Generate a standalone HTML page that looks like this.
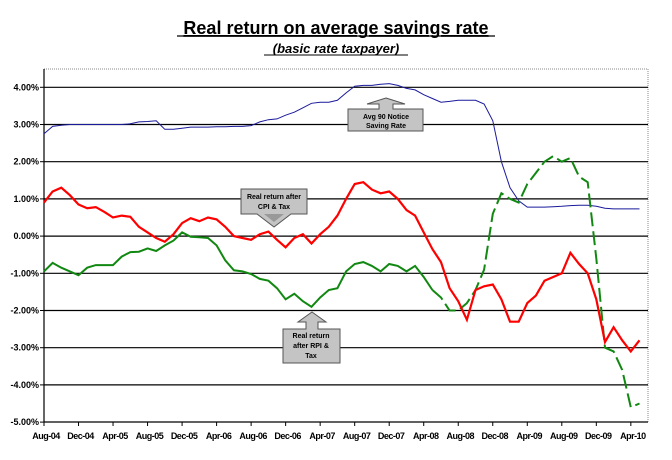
<!DOCTYPE html>
<html><head><meta charset="utf-8">
<style>
body{margin:0;background:#fff;width:672px;height:455px;overflow:hidden;font-family:"Liberation Sans",Arial,sans-serif}
text{font-family:"Liberation Sans",Arial,sans-serif}
</style></head>
<body>
<svg id="chart" width="672" height="455" viewBox="0 0 672 455">
<text x="336" y="34" text-anchor="middle" font-size="18" font-weight="bold" text-decoration="underline">Real return on average savings rate</text>
<line x1="177" y1="36" x2="495" y2="36" stroke="#000" stroke-width="1.2"/>
<text x="336" y="53" text-anchor="middle" font-size="13" font-weight="bold" font-style="italic">(basic rate taxpayer)</text>
<line x1="264" y1="55" x2="408" y2="55" stroke="#000" stroke-width="1"/>
<g id="grid"></g>
<g id="series"></g>
<g id="callouts"></g>
</svg>
<script>
const months=["Aug-04","Dec-04","Apr-05","Aug-05","Dec-05","Apr-06","Aug-06","Dec-06","Apr-07","Aug-07","Dec-07","Apr-08","Aug-08","Dec-08","Apr-09","Aug-09","Dec-09","Apr-10"];
const yTicks=[4,3,2,1,0,-1,-2,-3,-4,-5];
const savingsRate=[2.75,2.95,2.98,3.0,3.0,3.0,3.0,3.0,3.0,3.0,3.02,3.07,3.08,3.1,2.87,2.87,2.9,2.93,2.93,2.93,2.94,2.94,2.95,2.95,2.97,3.07,3.13,3.15,3.25,3.33,3.45,3.57,3.6,3.6,3.65,3.85,4.03,4.05,4.05,4.08,4.1,4.05,3.97,3.93,3.8,3.7,3.6,3.62,3.65,3.65,3.65,3.55,3.1,2.0,1.3,0.95,0.78,0.78,0.78,0.79,0.8,0.82,0.83,0.83,0.8,0.75,0.73,0.73,0.73,0.73];
const realCPI=[0.9,1.2,1.3,1.1,0.85,0.75,0.78,0.65,0.5,0.55,0.52,0.25,0.1,-0.05,-0.15,0.05,0.35,0.48,0.4,0.5,0.45,0.25,0.0,-0.05,-0.1,0.05,0.12,-0.1,-0.3,-0.05,0.05,-0.2,0.05,0.25,0.55,1.0,1.4,1.45,1.25,1.15,1.2,1.0,0.7,0.55,0.1,-0.35,-0.7,-1.4,-1.75,-2.25,-1.45,-1.35,-1.3,-1.7,-2.3,-2.3,-1.8,-1.6,-1.2,-1.1,-1.0,-0.45,-0.75,-1.0,-1.7,-2.85,-2.45,-2.8,-3.1,-2.8];
const realRPI=[-0.95,-0.72,-0.85,-0.95,-1.05,-0.85,-0.78,-0.78,-0.78,-0.55,-0.43,-0.42,-0.33,-0.4,-0.25,-0.12,0.1,-0.02,-0.03,-0.05,-0.25,-0.65,-0.92,-0.95,-1.02,-1.15,-1.2,-1.4,-1.7,-1.55,-1.75,-1.9,-1.65,-1.45,-1.4,-0.95,-0.75,-0.7,-0.8,-0.95,-0.75,-0.8,-0.95,-0.8,-1.1,-1.45,-1.65,-2.0,-2.0,-1.8,-1.45,-0.9,0.6,1.15,1.0,0.9,1.4,1.7,2.0,2.15,2.0,2.1,1.6,1.45,-0.6,-3.0,-3.1,-3.6,-4.6,-4.5];
const X0=44,X1=648,YT=69,YB=422;
const xs=m=>X0+m*8.63;
const ys=v=>87.3+(4-v)*37.2;
const NS="http://www.w3.org/2000/svg";
function mk(tag,attrs,parent){const e=document.createElementNS(NS,tag);for(const k in attrs)e.setAttribute(k,attrs[k]);parent.appendChild(e);return e;}
const g=document.getElementById('grid');
let bg=mk('rect',{x:X0,y:YT,width:X1-X0,height:YB-YT,fill:'#fff',stroke:'#888','stroke-dasharray':'1,1'},g);


yTicks.forEach(v=>{
  const y=ys(v);
  if(v>-5){const l=mk('line',{x1:X0,x2:X1,y1:y,y2:y,stroke:'#000','stroke-width':1.2},g);
  
  }
  mk('line',{x1:X0-4,x2:X0,y1:y,y2:y,stroke:'#000'},g);
  const t=mk('text',{x:X0-5,y:y+3,'text-anchor':'end','font-size':'9','font-weight':'bold'},g);
  t.textContent=v.toFixed(2)+'%';
  
  
});
mk('line',{x1:X0,x2:X0,y1:YT,y2:YB,stroke:'#000','stroke-width':1.2},g);
mk('line',{x1:X0,x2:X1,y1:YB,y2:YB,stroke:'#000','stroke-width':1.2},g);
months.forEach((lab,i)=>{
  const x=xs(i*4);
  mk('line',{x1:x,x2:x,y1:YB,y2:YB+4,stroke:'#000'},g);
  const t=mk('text',{x:x+2,y:YB+17,'text-anchor':'middle','font-size':'9','font-weight':'bold','letter-spacing':'-0.5'},g);
  t.textContent=lab;
  
  
});
const s=document.getElementById('series');
function pts(arr,a,b){let p=[];for(let i=a;i<=b&&i<arr.length;i++)p.push(xs(i).toFixed(1)+','+ys(arr[i]).toFixed(1));return p.join(' ');}
let pl=mk('polyline',{points:pts(savingsRate,0,savingsRate.length-1),fill:'none',stroke:'#1a1a9c','stroke-width':1},s);


pl=mk('polyline',{points:pts(realRPI,0,45),fill:'none',stroke:'#118811','stroke-width':2},s);


pl=mk('polyline',{points:pts(realRPI,45,realRPI.length-1),fill:'none',stroke:'#118811','stroke-width':2,'stroke-dasharray':'14,5'},s);


pl=mk('polyline',{points:pts(realCPI,0,realCPI.length-1),fill:'none',stroke:'#ff0000','stroke-width':2.2},s);


</script>
<svg style="position:absolute;left:0;top:0" width="672" height="455">
<g fill="#c4c4c4" stroke="#555" stroke-width="1">
<polygon points="241,189 307,189 307,214 291,214 291,214 274,227 257,214 241,214"/>
<polygon points="264,214 284,214 274,222" fill="#999" stroke="none"/>
<text x="274" y="199" text-anchor="middle" font-size="7" font-weight="bold" fill="#000" stroke="none">Real return after</text>
<text x="274" y="209" text-anchor="middle" font-size="7" font-weight="bold" fill="#000" stroke="none">CPI &amp; Tax</text>
</g>
<g fill="#c4c4c4" stroke="#555" stroke-width="1">
<polygon points="312,312 326,322 318,322 318,329 340,329 340,363 283,363 283,329 306,329 306,322 298,322"/>
<text x="311" y="338" text-anchor="middle" font-size="7" font-weight="bold" fill="#000" stroke="none">Real return</text>
<text x="311" y="348" text-anchor="middle" font-size="7" font-weight="bold" fill="#000" stroke="none">after RPI &amp;</text>
<text x="311" y="358" text-anchor="middle" font-size="7" font-weight="bold" fill="#000" stroke="none">Tax</text>
</g>
<g fill="#c4c4c4" stroke="#555" stroke-width="1">
<polygon points="386,98 405,104 393,104 393,109 423,109 423,131 348,131 348,109 379,109 379,104 367,104"/>
<text x="386" y="119" text-anchor="middle" font-size="7" font-weight="bold" fill="#000" stroke="none">Avg 90 Notice</text>
<text x="386" y="128" text-anchor="middle" font-size="7" font-weight="bold" fill="#000" stroke="none">Saving Rate</text>
</g>
</svg>
</body></html>
